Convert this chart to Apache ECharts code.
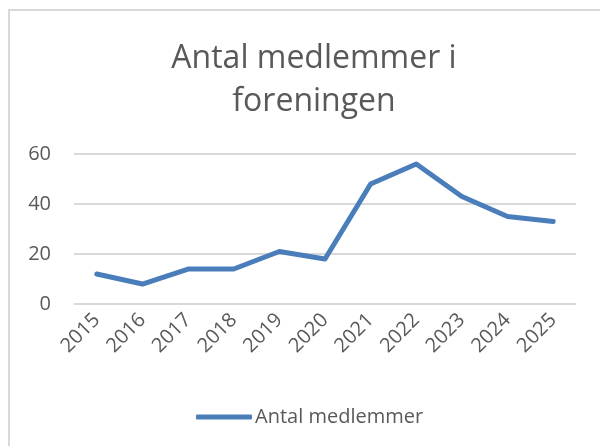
<!DOCTYPE html>
<html><head><meta charset="utf-8">
<script src="https://cdn.jsdelivr.net/npm/echarts@6/dist/echarts.min.js"></script>
<style>html,body{margin:0;padding:0;background:#fff}#c{width:600px;height:446px}</style>
</head><body><div id="c"></div>
<script>
const categories = ['2015','2016','2017','2018','2019','2020','2021','2022','2023','2024','2025'];
const members = [12, 8, 14, 14, 21, 18, 48, 56, 43, 35, 33];
const yTicks = [0, 20, 40, 60];
const seriesName = 'Antal medlemmer';
const titleText = 'Antal medlemmer i\nforeningen';

const FONT = 'Open Sans';
const chart = echarts.init(document.getElementById('c'));
chart.setOption({
  animation: false,
  backgroundColor: '#fff',
  graphic: [{
    type: 'rect', z: -1,
    shape: { x: 9, y: 10, width: 700, height: 600 },
    style: { fill: '#fff', stroke: '#d9d9d9', lineWidth: 2 }
  }],
  title: {
    text: titleText, left: 309, top: 32, textAlign: 'center',
    textStyle: { fontFamily: FONT, fontSize: 32, fontWeight: 'normal', color: '#595959', lineHeight: 43 }
  },
  legend: {
    data: [seriesName], left: 191, top: 402,
    icon: 'roundRect', itemWidth: 56, itemHeight: 5, itemGap: 0,
    textStyle: { fontFamily: FONT, fontSize: 20, color: '#595959', padding: [0,0,0,-2] }
  },
  grid: { left: 74, right: 24, top: 154, bottom: 142 },
  xAxis: {
    type: 'category', data: categories, boundaryGap: true,
    axisLine: { show: false }, axisTick: { show: false },
    axisLabel: { rotate: 45, margin: 13, fontFamily: FONT, fontSize: 20, color: '#595959' }
  },
  yAxis: {
    type: 'value', min: yTicks[0], max: yTicks[yTicks.length-1], interval: 20,
    axisLine: { show: false }, axisTick: { show: false },
    splitLine: { lineStyle: { color: '#d9d9d9', width: 2 } },
    axisLabel: { margin: 23, fontFamily: FONT, fontSize: 20, color: '#595959' }
  },
  series: [{
    name: seriesName, type: 'line', data: members,
    showSymbol: false, symbol: 'none',
    lineStyle: { color: '#4a7ebb', width: 5, cap: 'round', join: 'round' },
    itemStyle: { color: '#4a7ebb' }
  }]
});
</script></body></html>
